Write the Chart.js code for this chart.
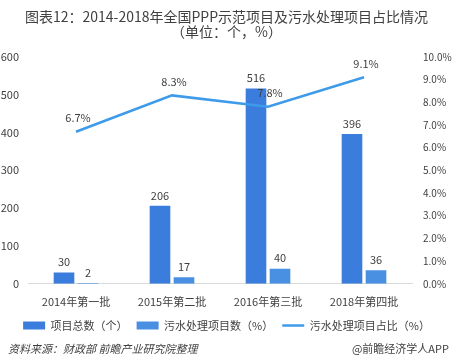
<!DOCTYPE html>
<html><head><meta charset="utf-8">
<script src="https://cdn.jsdelivr.net/npm/chart.js@4/dist/chart.umd.min.js"></script>
<style>
html,body{margin:0;padding:0;background:#fff;}
#wrap{position:relative;width:453px;height:364px;}
#src{position:absolute;left:8px;top:340px;font:italic 11px "Noto Sans CJK SC",sans-serif;color:#404040;}
#app{position:absolute;right:4px;top:340px;font:11px "Noto Sans CJK SC",sans-serif;color:#404040;}
</style></head>
<body><div id="wrap"><canvas id="c" width="453" height="364"></canvas>
<div id="src">资料来源：财政部 前瞻产业研究院整理</div>
<div id="app">@前瞻经济学人APP</div></div>
<script>
const categories = ["2014年第一批","2015年第二批","2016年第三批","2018年第四批"];
const totalProjects = [30,206,516,396];
const sewageProjects = [2,17,40,36];
const sewageShare = [6.7,8.3,7.8,9.1];
const leftTicks = [0,100,200,300,400,500,600];
const rightTicks = [0,1,2,3,4,5,6,7,8,9,10];

const FONT = '"Noto Sans CJK SC","Noto Sans",sans-serif';
const labelPlugin = {
  id:'vals',
  afterDatasetsDraw(chart){
    const ctx = chart.ctx;
    ctx.save();
    ctx.font = '11px ' + FONT;
    ctx.fillStyle = '#404040';
    ctx.textAlign = 'center';
    ctx.textBaseline = 'bottom';
    chart.data.datasets.forEach((ds,i)=>{
      const meta = chart.getDatasetMeta(i);
      meta.data.forEach((el,j)=>{
        const v = ds.data[j];
        if (ds.type==='line') ctx.fillText(v.toFixed(1)+'%', el.x+2, el.y-8);
        else ctx.fillText(String(v), el.x, el.y-5);
      });
    });
    ctx.restore();
  }
};

new Chart(document.getElementById('c'), {
  data:{
    labels:categories,
    datasets:[
      {type:'line',label:'污水处理项目占比（%）',data:sewageShare,yAxisID:'y1',borderColor:'#3d9be9',backgroundColor:'#3d9be9',borderWidth:2.5,pointRadius:0,tension:0,order:0,pointStyle:'line'},
      {type:'bar',label:'项目总数（个）',data:totalProjects,yAxisID:'y',backgroundColor:'#3b7ddd',borderWidth:0,categoryPercentage:0.5,barPercentage:0.86,order:1,pointStyle:'rect'},
      {type:'bar',label:'污水处理项目数（%）',data:sewageProjects,yAxisID:'y',backgroundColor:'#4a90e2',borderWidth:0,categoryPercentage:0.5,barPercentage:0.86,order:2,pointStyle:'rect'}
    ]
  },
  options:{
    responsive:false,animation:false,
    layout:{padding:{left:0,right:0,top:5,bottom:23}},
    plugins:{
      title:{display:true,text:['图表12：2014-2018年全国PPP示范项目及污水处理项目占比情况','（单位：个，%）'],color:'#404040',font:{family:FONT,size:14,weight:'normal',lineHeight:1.1},padding:{top:4,bottom:17}},
      legend:{position:'bottom',labels:{usePointStyle:true,pointStyleWidth:22,boxHeight:8,color:'#404040',font:{family:FONT,size:11},padding:9,
        sort:(a,b)=>{const o=[1,2,0];return o.indexOf(a.datasetIndex)-o.indexOf(b.datasetIndex);}}},
      tooltip:{enabled:false}
    },
    scales:{
      x:{grid:{display:false},border:{color:'#d9d9d9'},ticks:{color:'#404040',font:{family:FONT,size:11}}},
      y:{position:'left',min:0,max:600,afterBuildTicks:a=>{a.ticks=leftTicks.map(v=>({value:v}));},afterFit:a=>{a.width=28;},grid:{display:false},border:{display:false},ticks:{color:'#404040',font:{family:FONT,size:11},padding:1}},
      y1:{position:'right',min:0,max:10,afterBuildTicks:a=>{a.ticks=rightTicks.map(v=>({value:v}));},afterFit:a=>{a.width=41;},grid:{display:false},border:{display:false},ticks:{color:'#404040',font:{family:FONT,size:10},padding:3,callback:v=>Number(v).toFixed(1)+'%'}}
    }
  },
  plugins:[labelPlugin]
});
</script></body></html>
